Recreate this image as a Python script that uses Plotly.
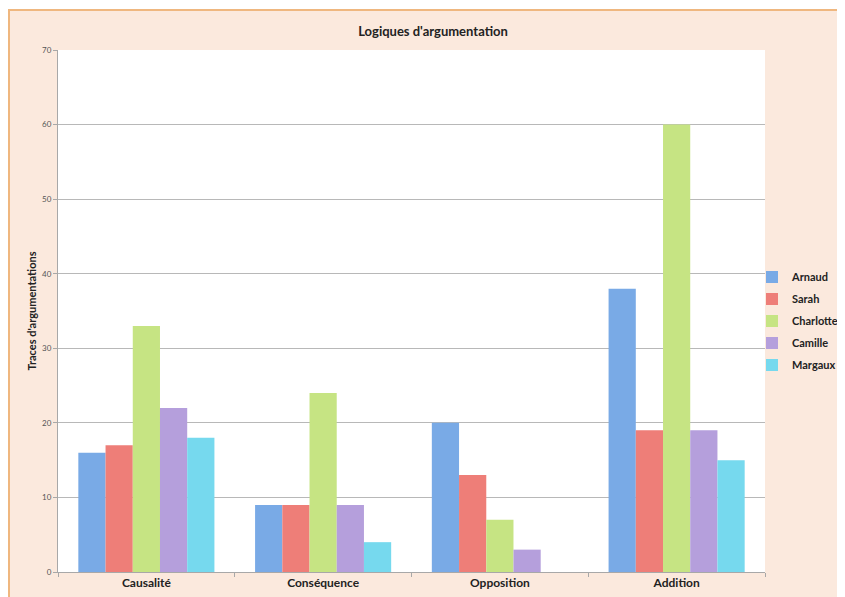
import plotly.graph_objects as go

categories = ["Causalité", "Conséquence", "Opposition", "Addition"]
names = ["Arnaud", "Sarah", "Charlotte", "Camille", "Margaux"]
arnaud = [16, 9, 20, 38]
sarah = [17, 9, 13, 19]
charlotte = [33, 24, 7, 60]
camille = [22, 9, 3, 19]
margaux = [18, 4, 0, 15]
y_ticks = [0, 10, 20, 30, 40, 50, 60, 70]

series = [arnaud, sarah, charlotte, camille, margaux]
colors = ["#79aae6", "#ee7e78", "#c6e483", "#b59fdc", "#76d9ee"]

fig = go.Figure()
for i in range(len(names)):
    fig.add_trace(go.Bar(x=categories, y=series[i], name="<b>" + names[i] + "</b>",
                         marker=dict(color=colors[i], line=dict(width=0)),
                         legendgroup=names[i]))

# page has an 8px body margin, so the figure is drawn 8px in from the corner
OFF = 8
W, H = 845 - OFF, 597 - OFF
L, R, T, B = 58 - OFF, 845 - 765, 50 - OFF, 597 - 572
pw = W - L - R
ph = H - T - B

def px_x(p):  # screenshot pixel -> paper x
    return (p - OFF - L) / pw

def px_y(p):  # screenshot pixel -> paper y
    return (H - B - (p - OFF)) / ph

bg = "#fbe9dd"
shapes = [
    # white strip above the chart frame
    dict(type="rect", xref="paper", yref="paper", x0=px_x(0), x1=px_x(850),
         y0=px_y(10), y1=px_y(0), fillcolor="white", line=dict(width=0), layer="above"),
    # orange frame
    dict(type="rect", xref="paper", yref="paper", x0=px_x(9), x1=px_x(860),
         y0=px_y(610), y1=px_y(10), fillcolor="rgba(0,0,0,0)",
         line=dict(color="#efb77f", width=2), layer="above"),
]

fig.update_layout(
    width=W, height=H,
    margin=dict(l=L, r=R, t=T, b=B, autoexpand=False),
    paper_bgcolor=bg, plot_bgcolor="white",
    font=dict(family="Lato", color="#222"),
    title=dict(text="<b>Logiques d'argumentation</b>", x=px_x(433), xanchor="center",
               xref="paper", y=1 - (31 - OFF) / H, yanchor="middle",
               font=dict(size=13, color="#222")),
    barmode="group", bargap=0.23, bargroupgap=0,
    showlegend=True,
    legend=dict(xref="container", yref="container", x=(752 - OFF) / W, xanchor="left",
                y=1 - (321 - OFF) / H, yanchor="middle",
                bgcolor="rgba(0,0,0,0)", font=dict(size=11, color="#222"),
                tracegroupgap=3, itemwidth=30),
    shapes=shapes,
)
fig.update_xaxes(showline=True, linecolor="#a8a8a8", linewidth=1, automargin=False,
                 ticks="outside", tickson="boundaries", ticklen=4, tickcolor="#a8a8a8",
                 tickfont=dict(size=12, color="#222"),
                 tickprefix="<b>", ticksuffix="</b>")
fig.update_yaxes(range=[0, 70], tickvals=y_ticks, showline=True, linecolor="#a8a8a8",
                 gridcolor="#b8b8b8", gridwidth=1, zeroline=False, automargin=False,
                 ticks="outside", ticklen=4, tickcolor="#a8a8a8",
                 tickfont=dict(size=8, color="#555"),
                 title=dict(text="<b>Traces d'argumentations</b>", font=dict(size=11, color="#222"),
                            standoff=3))

fig.write_html("out.html")
